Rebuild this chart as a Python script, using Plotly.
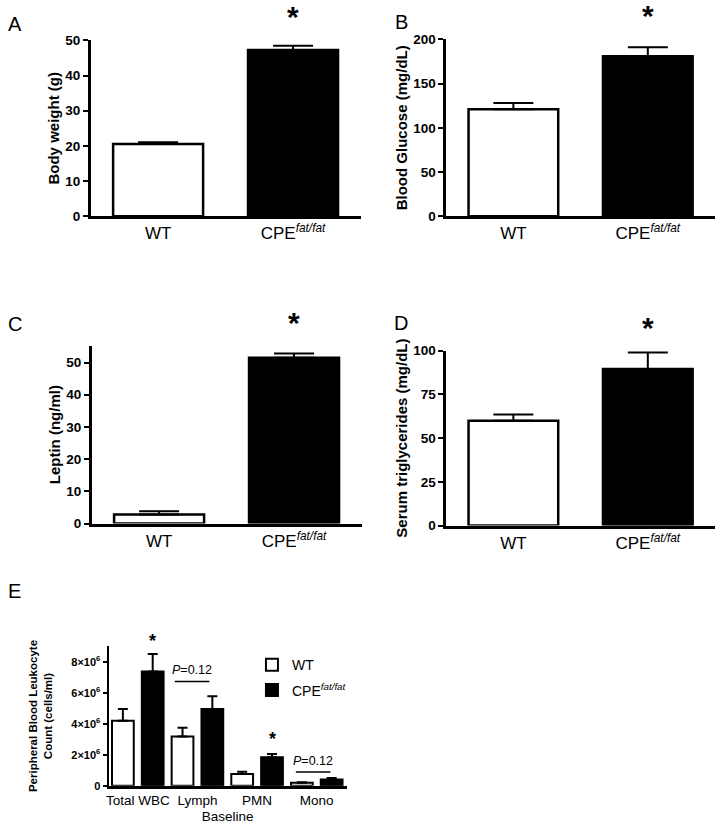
import plotly.graph_objects as go

# ---- data ----
groups = ["WT", "CPE<sup><i>fat/fat</i></sup>"]

body_weight = [20.5, 47.3]
body_weight_err = [0.5, 1.2]

glucose = [121, 181]
glucose_err = [7, 10]

leptin = [2.8, 51.5]
leptin_err = [1.0, 1.3]

triglycerides = [60, 89.5]
triglycerides_err = [3.5, 9.5]

cell_types = ["Total WBC", "Lymph", "PMN", "Mono"]
wbc_wt = [4.19e6, 3.17e6, 0.76e6, 0.20e6]
wbc_wt_err = [0.76e6, 0.58e6, 0.14e6, 0.03e6]
wbc_cpe = [7.37e6, 4.95e6, 1.84e6, 0.40e6]
wbc_cpe_err = [1.13e6, 0.83e6, 0.21e6, 0.10e6]

W, H = 724, 834
FONT = "Arial, Liberation Sans, sans-serif"


def px_x(p):
    return p / W


def px_y(p):
    return 1 - p / H


fig = go.Figure()

panels = [
    # (axis suffix, values, errors, y title, y range, dtick, x px domain, y px domain)
    ("", body_weight, body_weight_err, "Body weight (g)", [0, 50], 10, (88, 359), (34, 213)),
    ("2", glucose, glucose_err, "Blood Glucose (mg/dL)", [0, 200], 50, (445, 715), (33, 213)),
    ("3", leptin, leptin_err, "Leptin (ng/ml)", [0, 55.2], 10, (89, 360), (345, 526)),
    ("4", triglycerides, triglycerides_err, "Serum triglycerides (mg/dL)", [0, 100], 25, (445, 715), (350, 528)),
]

axis_common = dict(showgrid=False, zeroline=False, showline=True, linecolor="black",
                   linewidth=2.5, ticks="outside", tickwidth=2, ticklen=5, tickcolor="black")

for suf, vals, errs, ytitle, yrange, dtick, xd, yd in panels:
    fig.add_trace(go.Bar(
        x=groups, y=vals, width=0.667,
        marker=dict(color=["white", "black"], line=dict(color="black", width=2.5)),
        error_y=dict(type="data", array=errs, arrayminus=[0] * len(errs), symmetric=False,
                     color="black", thickness=2, width=20),
        xaxis="x" + suf, yaxis="y" + suf, showlegend=False,
    ))
    fig.update_layout(**{
        "xaxis" + suf: dict(axis_common, domain=[px_x(xd[0]), px_x(xd[1])], range=[-0.5, 1.5],
                            anchor="y" + suf, ticks="",
                            tickfont=dict(family=FONT, size=17, color="black")),
        "yaxis" + suf: dict(axis_common, domain=[px_y(yd[1]), px_y(yd[0])], range=yrange,
                            dtick=dtick, anchor="x" + suf,
                            tickfont=dict(family=FONT, size=13.5, color="black", weight="bold"),
                            title=dict(text=ytitle, standoff=2,
                                       font=dict(family=FONT, size=15, color="black", weight="bold"))),
    })
    # significance star above the CPE bar
    fig.add_annotation(x=groups[1], y=px_y(yd[0] - 24), xref="x" + suf, yref="paper",
                       text="<b>*</b>", showarrow=False, yanchor="middle",
                       font=dict(family=FONT, size=30, color="black"))

# ---- panel E: grouped bars ----
fig.add_trace(go.Bar(
    x=cell_types, y=wbc_wt, name="WT", legendgroup="wt",
    marker=dict(color="white", line=dict(color="black", width=2)),
    error_y=dict(type="data", array=wbc_wt_err, arrayminus=[0] * 4, symmetric=False,
                 color="black", thickness=2, width=5),
    xaxis="x5", yaxis="y5",
))
fig.add_trace(go.Bar(
    x=cell_types, y=wbc_cpe, name="CPE<sup><i>fat/fat</i></sup>", legendgroup="cpe",
    marker=dict(color="black", line=dict(color="black", width=2)),
    error_y=dict(type="data", array=wbc_cpe_err, arrayminus=[0] * 4, symmetric=False,
                 color="black", thickness=2, width=5),
    xaxis="x5", yaxis="y5",
))

e_ticks = [0, 2e6, 4e6, 6e6, 8e6]
e_ticktext = ["0"] + [f"{int(v / 1e6)}×10<sup>6</sup>" for v in e_ticks[1:]]

fig.update_layout(
    xaxis5=dict(axis_common, domain=[px_x(106), px_x(345)], range=[-0.49, 3.5], anchor="y5",
                ticks="", tickfont=dict(family=FONT, size=13.5, color="black"),
                title=dict(text="Baseline", standoff=5, font=dict(family=FONT, size=13.5, color="black"))),
    yaxis5=dict(axis_common, domain=[px_y(793), px_y(651)], range=[0, 9e6], anchor="x5",
                tickvals=e_ticks, ticktext=e_ticktext, linewidth=2, ticklen=4,
                tickfont=dict(family=FONT, size=11, color="black", weight="bold"),
                title=dict(text="Peripheral Blood Leukocyte<br>Count (cells/ml)", standoff=16,
                           font=dict(family=FONT, size=11.5, color="black", weight="bold"))),
    barmode="group", bargap=0.0, bargroupgap=0.27,
)

# P-value brackets and stars in panel E
for x0, x1, yline, label_x in [(0.62, 1.2, 6.73e6, 0.91), (2.65, 3.23, 0.89e6, 2.94)]:
    fig.add_shape(type="line", xref="x5", yref="y5", x0=x0, x1=x1, y0=yline, y1=yline,
                  line=dict(color="black", width=1.5))
    fig.add_annotation(x=label_x, y=yline, xref="x5", yref="y5", yanchor="bottom", yshift=2,
                       text="<i>P</i>=0.12", showarrow=False,
                       font=dict(family=FONT, size=12.5, color="black"))
for xi, ypx in [(0.25, 643), (2.25, 742)]:
    fig.add_annotation(x=xi, y=px_y(ypx), xref="x5", yref="paper", text="<b>*</b>",
                       showarrow=False, yanchor="middle", yshift=-3,
                       font=dict(family=FONT, size=18, color="black"))

# panel letters
for letter, xp, yp in [("A", 12, 17), ("B", 400, 15), ("C", 12, 323), ("D", 400, 322), ("E", 12, 595)]:
    fig.add_annotation(x=px_x(xp), y=px_y(yp), xref="paper", yref="paper", text=letter,
                       showarrow=False, xanchor="center", yanchor="middle",
                       font=dict(family=FONT, size=20, color="black"))

fig.update_layout(
    width=W, height=H,
    margin=dict(l=0, r=0, t=0, b=0),
    paper_bgcolor="white", plot_bgcolor="white",
    font=dict(family=FONT, color="black"),
    showlegend=True,
    legend=dict(x=px_x(250), y=px_y(654), xanchor="left", yanchor="top",
                font=dict(family=FONT, size=14, color="black"),
                bgcolor="rgba(0,0,0,0)", tracegroupgap=4, itemwidth=30),
)

# drop the browser's default body margin so the figure fills the window exactly
fig.write_html("out.html", config={"displayModeBar": False},
               post_script="document.body.style.margin='0';"
                           "document.body.style.overflow='hidden';")
